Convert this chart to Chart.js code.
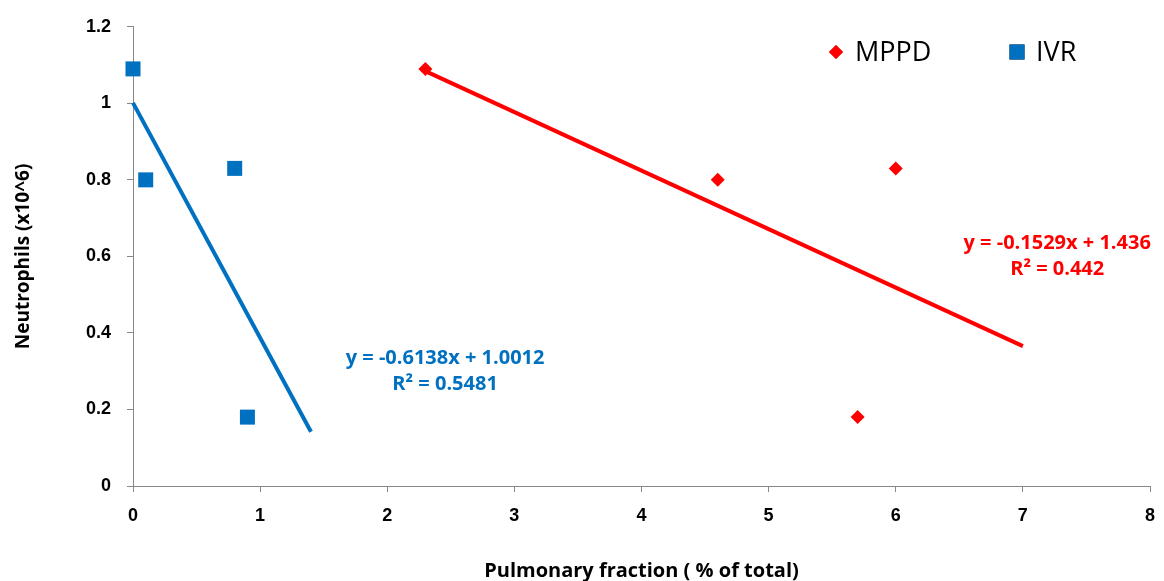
<!DOCTYPE html>
<html>
<head>
<meta charset="utf-8">
<script src="https://cdn.jsdelivr.net/npm/chart.js@4/dist/chart.umd.min.js"></script>
<style>
  html, body { margin: 0; padding: 0; background: #fff; }
  #wrap { width: 1164px; height: 581px; position: relative; }
</style>
</head>
<body>
<div id="wrap"><canvas id="c" width="1164" height="581"></canvas></div>
<script>
// Pulmonary fraction (% of total) and neutrophil counts (x10^6) per group
const mppdX = [2.3, 4.6, 6.0, 5.7];
const mppdY = [1.09, 0.80, 0.83, 0.18];
const ivrX = [0, 0.1, 0.8, 0.9];
const ivrY = [1.09, 0.80, 0.83, 0.18];

// Linear fits: [slope, intercept], plus the x range each fit line spans
const mppdFit = [-0.1529, 1.436];
const ivrFit = [-0.6138, 1.0012];
const mppdFitRange = [2.3, 7.0];
const ivrFitRange = [0, 1.4];
const mppdR2 = 0.442;
const ivrR2 = 0.5481;

const xTicks = [0, 1, 2, 3, 4, 5, 6, 7, 8];
const yTicks = [0, 0.2, 0.4, 0.6, 0.8, 1, 1.2];

const RED = '#FF0000';
const BLUE = '#0070C0';

const pts = (xs, ys) => xs.map((x, i) => ({ x: x, y: ys[i] }));
const fitLine = (fit, range) => range.map(x => ({ x: x, y: fit[0] * x + fit[1] }));

// Equation text for each fit, placed in data coordinates
const eqLabels = [
  { color: BLUE, x: 2.455, y: 0.334, lines: ['y = ' + ivrFit[0] + 'x + ' + ivrFit[1].toFixed(4), 'R\u00B2 = ' + ivrR2] },
  { color: RED, x: 7.27, y: 0.634, lines: ['y = ' + mppdFit[0] + 'x + ' + mppdFit[1], 'R\u00B2 = ' + mppdR2] }
];

const extras = {
  id: 'extras',
  afterDatasetsDraw(chart) {
    const ctx = chart.ctx;
    const xs = chart.scales.x, ys = chart.scales.y;
    ctx.save();
    // fit equations
    ctx.font = 'bold 20px "Open Sans"';
    ctx.textAlign = 'center';
    ctx.textBaseline = 'middle';
    eqLabels.forEach(l => {
      ctx.fillStyle = l.color;
      const cx = xs.getPixelForValue(l.x);
      const cy = ys.getPixelForValue(l.y);
      l.lines.forEach((t, i) => ctx.fillText(t, cx, cy + i * 26));
    });
    // legend
    const items = [
      { ds: 0, label: 'MPPD', px: 836 },
      { ds: 1, label: 'IVR', px: 1017 }
    ];
    ctx.font = '27px "Open Sans"';
    ctx.textAlign = 'left';
    items.forEach(it => {
      const d = chart.data.datasets[it.ds];
      Chart.helpers.drawPoint(ctx, {
        pointStyle: d.pointStyle, radius: d.pointRadius, rotation: 0, borderWidth: 0
      }, it.px, 52);
      ctx.fillStyle = d.backgroundColor;
      ctx.fill();
      ctx.fillStyle = '#000';
      ctx.fillText(it.label, it.px + 19, 53);
    });
    ctx.restore();
  }
};

new Chart(document.getElementById('c'), {
  type: 'scatter',
  data: {
    datasets: [
      { label: 'MPPD', data: pts(mppdX, mppdY), pointStyle: 'rectRot', pointRadius: 7, pointHoverRadius: 7,
        backgroundColor: RED, borderColor: RED, borderWidth: 0, order: 0, clip: false },
      { label: 'IVR', data: pts(ivrX, ivrY), pointStyle: 'rect', pointRadius: 10.6, pointHoverRadius: 10.6,
        backgroundColor: BLUE, borderColor: BLUE, borderWidth: 0, order: 0, clip: false },
      { label: 'MPPD fit', data: fitLine(mppdFit, mppdFitRange), showLine: true, pointRadius: 0,
        borderColor: RED, borderWidth: 4, fill: false, order: 1, clip: false },
      { label: 'IVR fit', data: fitLine(ivrFit, ivrFitRange), showLine: true, pointRadius: 0,
        borderColor: BLUE, borderWidth: 4, fill: false, order: 1, clip: false }
    ]
  },
  options: {
    responsive: false,
    animation: false,
    layout: { padding: { left: 0, right: 14, top: 26, bottom: 0 } },
    plugins: { legend: { display: false }, tooltip: { enabled: false } },
    scales: {
      x: {
        type: 'linear', min: 0, max: 8,
        afterBuildTicks: s => { s.ticks = xTicks.map(v => ({ value: v })); },
        afterFit: s => { s.height = 95; s.paddingLeft = 0; s.paddingRight = 0; },
        grid: { display: true, drawOnChartArea: false, drawTicks: true, tickLength: 6, color: '#888', lineWidth: 1 },
        border: { display: true, color: '#888', width: 1 },
        ticks: { color: '#000', font: { family: '"Liberation Sans"', weight: 'bold', size: 18 }, padding: 13,
          maxRotation: 0, callback: v => String(v) },
        title: { display: true, text: 'Pulmonary fraction ( % of total)', color: '#000',
          font: { family: '"Open Sans"', weight: 'bold', size: 20 }, padding: { top: 0, bottom: -2 } }
      },
      y: {
        type: 'linear', min: 0, max: 1.2,
        afterBuildTicks: s => { s.ticks = yTicks.map(v => ({ value: v })); },
        afterFit: s => { s.width = 133; },
        grid: { display: true, drawOnChartArea: false, drawTicks: true, tickLength: 6, color: '#888', lineWidth: 1 },
        border: { display: true, color: '#888', width: 1 },
        ticks: { color: '#000', font: { family: '"Liberation Sans"', weight: 'bold', size: 18 }, padding: 16,
          callback: v => String(v) },
        title: { display: true, text: 'Neutrophils (x10^6)', color: '#000',
          font: { family: '"Open Sans"', weight: 'bold', size: 19 }, padding: { top: 12, bottom: 0 } }
      }
    }
  },
  plugins: [extras]
});
</script>
</body>
</html>
